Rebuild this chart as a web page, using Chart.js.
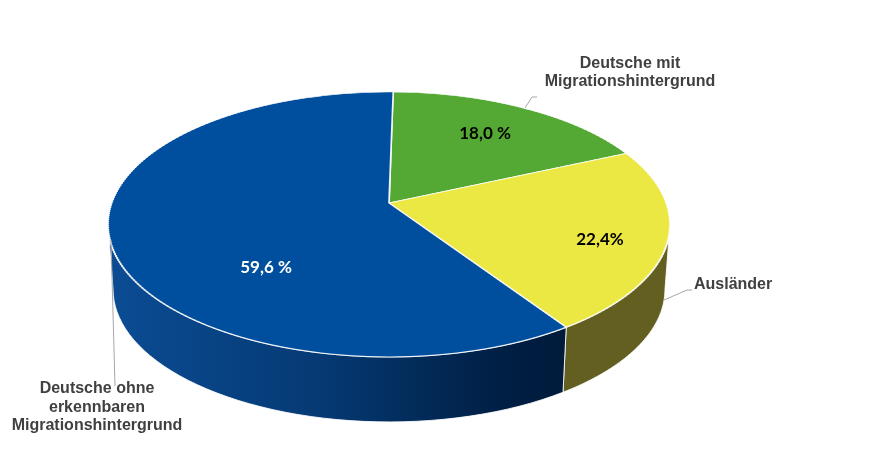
<!DOCTYPE html>
<html>
<head>
<meta charset="utf-8">
<script src="https://cdn.jsdelivr.net/npm/chart.js@4.4.1/dist/chart.umd.min.js"></script>
<style>
  html, body { margin: 0; padding: 0; background: #ffffff; }
  #wrap { width: 869px; height: 462px; }
</style>
</head>
<body>
<div id="wrap"><canvas id="pieChart" width="869" height="462"></canvas></div>
<script>
// data
const categories = ['Deutsche mit Migrationshintergrund', 'Ausländer', 'Deutsche ohne erkennbaren Migrationshintergrund']
const shares = [18.0, 22.4, 59.6]
const shareLabels = ['18,0 %', '22,4%', '59,6 %']
const categoryLines = [
  ['Deutsche mit', 'Migrationshintergrund'],
  ['Ausländer'],
  ['Deutsche ohne', 'erkennbaren', 'Migrationshintergrund']
]

// colours
const topColors = ['#53a933', '#ece843', '#004f9e']

// perspective of the disc: apex (CX, CY), back edge 111px up, front edge 154px down
const CX = 389, CY = 203
const PA = 129, PB = 277.3, PK = 0.162
const DEPTH = 65, SHRINK = 0.982

// canvas angle of the flat pie -> screen point on the tilted disc
const rimPoint = (phi, bottom) => {
  const den = 1 - PK * Math.sin(phi)
  let X = CX + PB * Math.cos(phi) / den
  let Y = CY + PA * Math.sin(phi) / den
  if (bottom) {
    X = CX + (X - CX) * SHRINK
    Y += DEPTH
  }
  return [X, Y]
}

// screen row -> depth coordinate v (1 = back, -1 = front)
const rowToV = Y => {
  const t = (CY - Y) / PA
  return t / (1 - PK * t)
}

const sideFill = (ctx, i) => {
  if (i === 1) return '#625f21'
  if (i === 0) return '#2c5e1c'
  const g = ctx.createLinearGradient(CX - 281, 0, 572, 0)
  g.addColorStop(0, '#0b4c94')
  g.addColorStop(0.45, '#053a74')
  g.addColorStop(0.85, '#001f44')
  g.addColorStop(1, '#001a3a')
  return g
}

const drawSides = (chart, meta) => {
  const ctx = chart.ctx
  const edge = Math.asin(PK)
  meta.data.forEach((arc, i) => {
    for (let j = -1; j <= 1; j++) {
      const lo = Math.max(arc.startAngle, j * 2 * Math.PI + edge)
      const hi = Math.min(arc.endAngle, j * 2 * Math.PI + Math.PI - edge)
      if (hi <= lo) continue
      const n = 48
      ctx.save()
      ctx.beginPath()
      for (let s = 0; s <= n; s++) {
        const p = rimPoint(lo + (hi - lo) * s / n, false)
        s ? ctx.lineTo(p[0], p[1]) : ctx.moveTo(p[0], p[1])
      }
      for (let s = n; s >= 0; s--) {
        const p = rimPoint(lo + (hi - lo) * s / n, true)
        ctx.lineTo(p[0], p[1])
      }
      ctx.closePath()
      ctx.fillStyle = sideFill(ctx, i)
      ctx.fill()
      ctx.strokeStyle = 'rgba(255,255,255,0.85)'
      ctx.lineWidth = 1
      ctx.stroke()
      ctx.restore()
    }
  })
}

const pie3d = {
  id: 'pie3d',
  beforeDatasetsDraw(chart) {
    const ctx = chart.ctx
    const meta = chart.getDatasetMeta(0)
    const first = meta.data[0]
    const x0 = first.x, y0 = first.y, R = first.outerRadius
    drawSides(chart, meta)

    // top face: draw the library's arcs band by band, each band with its own scale
    const step = 2
    for (let Y1 = 86; Y1 < 362; Y1 += step) {
      const Y2 = Y1 + step
      const v1 = rowToV(Y1), v2 = rowToV(Y2)
      const sx = PB / (1 + PK * (v1 + v2) / 2)
      const m = (Y2 - Y1) / (v2 - v1)
      ctx.save()
      ctx.beginPath()
      ctx.rect(0, Y1, chart.width, step)
      ctx.clip()
      ctx.transform(sx / R, 0, 0, -m / R, CX - sx * x0 / R, Y1 - m * v1 + m * y0 / R)
      meta.controller.draw()
      ctx.restore()
    }
    return false
  },
  afterDraw(chart) {
    const ctx = chart.ctx
    ctx.save()

    // leader lines
    ctx.strokeStyle = '#a6a6a6'
    ctx.lineWidth = 1
    const leaders = [
      [[525, 108], [532, 97], [537, 97]],
      [[664, 300], [687, 290], [692, 290]],
      [[111, 240], [115, 386]]
    ]
    leaders.forEach(pts => {
      ctx.beginPath()
      pts.forEach((p, j) => j ? ctx.lineTo(p[0], p[1]) : ctx.moveTo(p[0], p[1]))
      ctx.stroke()
    })

    // category labels
    ctx.font = 'bold 16px "Liberation Sans", Arial, sans-serif'
    ctx.fillStyle = '#404040'
    ctx.textBaseline = 'middle'
    const catPos = [
      { x: 630, y: 64, align: 'center', step: 17.5 },
      { x: 694, y: 285, align: 'left', step: 18 },
      { x: 97, y: 389, align: 'center', step: 18.5 }
    ]
    categoryLines.forEach((lines, i) => {
      const p = catPos[i]
      ctx.textAlign = p.align
      lines.forEach((t, j) => ctx.fillText(t, p.x, p.y + j * p.step))
    })

    // value labels
    ctx.font = 'bold 17px Lato, "Open Sans", sans-serif'
    const valPos = [[485, 134], [600, 240], [266, 268]]
    const valColor = ['#000000', '#000000', '#ffffff']
    ctx.textAlign = 'center'
    shareLabels.forEach((t, i) => {
      ctx.fillStyle = valColor[i]
      ctx.fillText(t, valPos[i][0], valPos[i][1])
    })
    ctx.restore()
  }
}

const ctx = document.getElementById('pieChart').getContext('2d')
const pieChart = new Chart(ctx, {
  type: 'pie',
  data: {
    labels: categories,
    datasets: [{
      data: shares,
      backgroundColor: topColors,
      borderColor: 'rgba(255,255,255,0.9)',
      borderWidth: 1.4
    }]
  },
  options: {
    responsive: false,
    animation: false,
    devicePixelRatio: 1,
    rotation: 1,
    layout: { padding: 10 },
    plugins: {
      legend: { display: false },
      tooltip: { enabled: false }
    }
  },
  plugins: [pie3d]
})
</script>
</body>
</html>
